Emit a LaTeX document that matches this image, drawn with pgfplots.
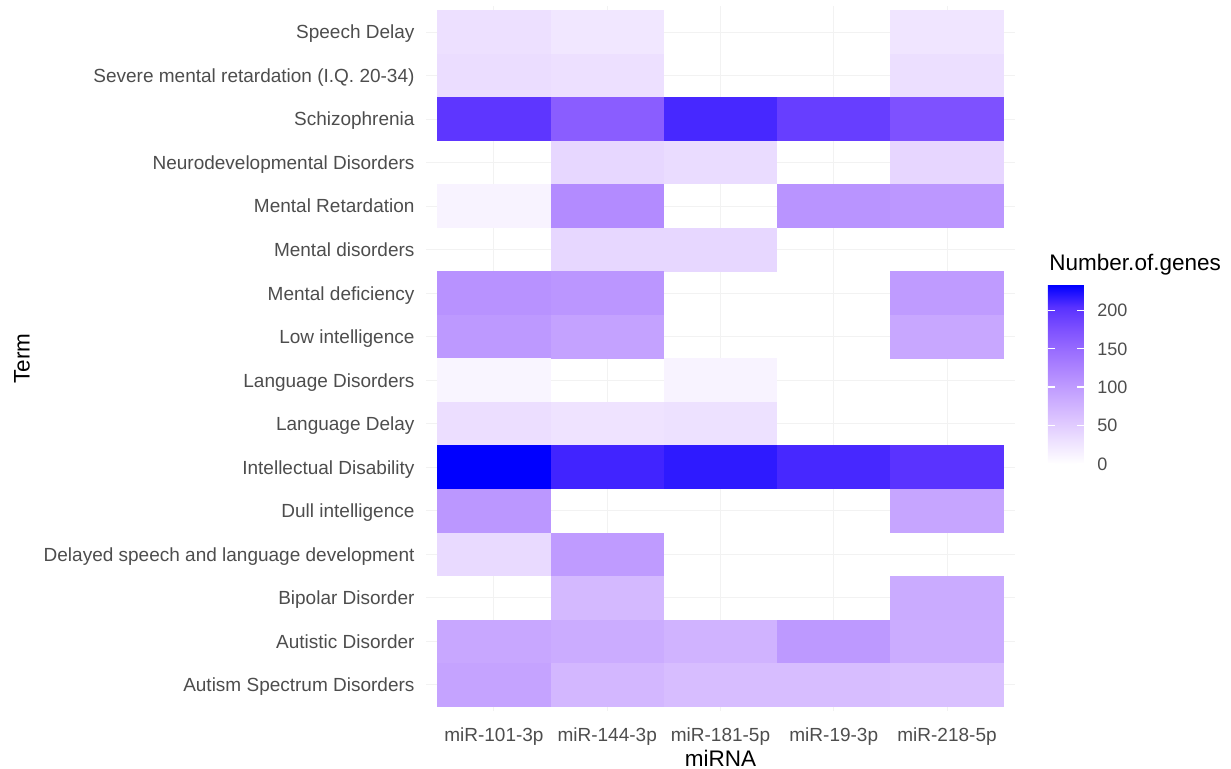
\documentclass[border=0pt]{standalone}
\usepackage{pgfplots}
\pgfplotsset{compat=1.18}
\usepackage{pgfplotstable}
\usepackage{fontspec}
\setmainfont{Liberation Sans}
\definecolor{ticklab}{RGB}{77,77,77}
\definecolor{gridc}{RGB}{242,242,242}

\pgfdeclareplotmark{tile}{%
  \pgfpathrectangle{\pgfpoint{-22.68pt}{-8.73pt}}{\pgfpoint{45.36pt}{17.46pt}}%
  \pgfusepathqfill}

% x: 1=miR-101-3p 2=miR-144-3p 3=miR-181-5p 4=miR-19-3p 5=miR-218-5p
% y: 1=Autism Spectrum Disorders ... 16=Speech Delay
\pgfplotstableread{
x y v
1 16 31
2 16 24
5 16 26
1 15 34
2 15 31
5 15 32
1 14 200
2 14 163
3 14 210
4 14 193
5 14 175
2 13 40
3 13 35
5 13 41
1 12 12
2 12 117
4 12 108
5 12 104
2 11 40
3 11 40
1 10 110
2 10 106
5 10 100
1 9 102
2 9 93
5 9 88
1 8 10
3 8 12
1 7 33
2 7 28
3 7 30
1 6 233
2 6 212
3 6 218
4 6 210
5 6 203
1 5 105
5 5 90
1 4 37
2 4 100
2 3 70
5 3 84
1 2 88
2 2 83
3 2 76
4 2 102
5 2 83
1 1 92
2 1 72
3 1 66
4 1 66
5 1 62
}\genes

\begin{document}
\begin{tikzpicture}
\useasboundingbox (-170.4pt,-23.2pt) rectangle (322pt,284.4pt);
\begin{axis}[
  at={(0,0)}, anchor=south west,
  scale only axis,
  width=235.6pt, height=282pt,
  xmin=0.4, xmax=5.6, ymin=0.4, ymax=16.6,
  xtick={1,2,3,4,5},
  xticklabels={miR-101-3p,miR-144-3p,miR-181-5p,miR-19-3p,miR-218-5p},
  ytick={1,...,16},
  yticklabels={Autism Spectrum Disorders,Autistic Disorder,Bipolar Disorder,Delayed speech and language development,Dull intelligence,Intellectual Disability,Language Delay,Language Disorders,Low intelligence,Mental deficiency,Mental disorders,Mental Retardation,Neurodevelopmental Disorders,Schizophrenia,Severe mental retardation (I.Q. 20-34),Speech Delay},
  axis line style={draw=none},
  major tick length=0pt,
  grid=major,
  major grid style={gridc, line width=0.4pt},
  xticklabel style={font=\fontsize{7.6}{9}\selectfont, color=ticklab, anchor=base, inner sep=0pt, yshift=-12.3pt},
  yticklabel style={font=\fontsize{7.6}{9}\selectfont, color=ticklab, anchor=base east, inner sep=0pt, xshift=-4.4pt, yshift=-2.72pt},
  xlabel={miRNA}, ylabel={Term},
  xlabel style={font=\fontsize{9}{10}\selectfont, at={(axis description cs:0.5,-0.0667)}, anchor=center},
  ylabel style={font=\fontsize{9}{10}\selectfont, at={(axis description cs:-0.6859,0.5)}, anchor=center, rotate=0},
  colormap={ggblue}{rgb255=(255,255,255) rgb255=(238,226,255) rgb255=(220,196,255) rgb255=(200,168,255) rgb255=(179,139,255) rgb255=(155,111,255) rgb255=(126,81,255) rgb255=(89,50,255) rgb255=(0,0,255)},
  point meta min=0, point meta max=233,
  colorbar,
  colorbar style={
    at={(1.056,0.3504)}, anchor=south west,
    scale only axis,
    width=14.4pt, height=71.6pt,
    ytick={0,50,100,150,200},
    /pgf/number format/assume math mode=true,
    axis line style={draw=none},
    tick align=inside,
    major tick length=2.9pt,
    ytick style={white, line width=0.6pt},
    tickpos=both,
    yticklabel pos=right,
    yticklabel style={font=\fontsize{7.2}{8}\selectfont, color=ticklab, anchor=base west, inner sep=0pt, xshift=5.2pt, yshift=-2.58pt},
    title={Number.of.genes},
    title style={at={(0,1)}, anchor=base west, inner sep=0pt, xshift=0.4pt, yshift=-0.4pt, font=\fontsize{9}{10}\selectfont},
  },
]
\addplot[scatter, only marks, mark=tile, point meta=explicit,
  scatter/use mapped color={fill=mapped color, draw=none}]
  table[x=x, y=y, meta=v] {\genes};
\end{axis}
\end{tikzpicture}
\end{document}
